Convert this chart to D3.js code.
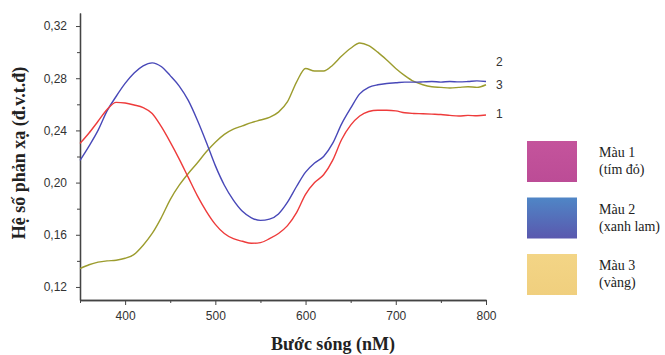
<!DOCTYPE html>
<html>
<head>
<meta charset="utf-8">
<script src="https://cdn.jsdelivr.net/npm/d3@7"></script>
<style>
  body { margin: 0; background: #fff; }
  .tick text { font-family: Arial, "Liberation Sans", sans-serif; font-size: 12px; fill: #333; }
  .axis path, .axis line { stroke: #444; }
  .axis-label { font-family: "Liberation Serif", "Times New Roman", serif; font-weight: bold; font-size: 18px; fill: #222; }
  .legend-text { font-family: "Liberation Serif", "Times New Roman", serif; font-size: 14px; fill: #222; }
  .curve-label { font-family: Arial, "Liberation Sans", sans-serif; font-size: 12px; fill: #333; }
</style>
</head>
<body>
<svg width="665" height="355"></svg>
<script>
const svg = d3.select('svg');

const margin = { top: 13, left: 80 };
const innerWidth = 406;
const innerHeight = 287;

const xAxisLabel = 'Bước sóng (nM)';
const yAxisLabel = 'Hệ số phản xạ (đ.v.t.đ)';

// wavelengths (nm)
const wavelengths = [350, 360, 370, 380, 390, 400, 410, 420, 430, 440,
  450, 460, 470, 480, 490, 500, 510, 520, 530, 540,
  550, 560, 570, 580, 590, 600, 610, 620, 630, 640,
  650, 660, 670, 680, 690, 700, 710, 720, 730, 740,
  750, 760, 770, 780, 790, 800];

// curve 1 (red)
const series1 = [0.230, 0.238, 0.247, 0.256, 0.2615, 0.261, 0.2595, 0.2575, 0.253, 0.243,
  0.231, 0.218, 0.204, 0.190, 0.178, 0.168, 0.161, 0.157, 0.155, 0.1535,
  0.154, 0.157, 0.161, 0.167, 0.177, 0.191, 0.200, 0.206, 0.217, 0.233,
  0.244, 0.251, 0.2545, 0.2555, 0.2555, 0.255, 0.2535, 0.253, 0.2528, 0.2525,
  0.2522, 0.2515, 0.251, 0.2515, 0.2512, 0.2518];

// curve 2 (blue)
const series2 = [0.217, 0.228, 0.240, 0.255, 0.266, 0.276, 0.284, 0.2895, 0.2918, 0.289,
  0.282, 0.274, 0.263, 0.248, 0.231, 0.213, 0.198, 0.1866, 0.178, 0.173,
  0.171, 0.172, 0.176, 0.185, 0.197, 0.208, 0.215, 0.220, 0.230, 0.245,
  0.257, 0.268, 0.273, 0.275, 0.276, 0.2765, 0.277, 0.277, 0.2772, 0.2775,
  0.277, 0.2775, 0.2772, 0.2775, 0.278, 0.2775];

// curve 3 (olive)
const series3 = [0.134, 0.137, 0.139, 0.140, 0.1405, 0.142, 0.145, 0.152, 0.161, 0.173,
  0.187, 0.198, 0.207, 0.215, 0.2236, 0.231, 0.237, 0.241, 0.2435, 0.246,
  0.248, 0.250, 0.254, 0.262, 0.277, 0.2875, 0.2855, 0.2855, 0.290, 0.297,
  0.303, 0.307, 0.305, 0.300, 0.294, 0.2875, 0.282, 0.2775, 0.275, 0.2735,
  0.273, 0.2725, 0.273, 0.2735, 0.273, 0.275];

const seriesNames = ['1', '2', '3'];
const seriesColors = ['#ee3b3b', '#4848b8', '#9c9c2e'];

// legend of sample colours
const swatchLabels = [['Màu 1', '(tím đỏ)'], ['Màu 2', '(xanh lam)'], ['Màu 3', '(vàng)']];
const swatchTop = ['#c4549c', '#4f86c6', '#f3d586'];
const swatchBottom = ['#bc4c96', '#5a58ae', '#f0cf7e'];

const xTicks = [400, 500, 600, 700, 800];
const yTicks = [0.12, 0.16, 0.20, 0.24, 0.28, 0.32];
const xMinor = [350, 450, 550, 650, 750];
const yMinor = [0.14, 0.18, 0.22, 0.26, 0.30];

const x = d3.scaleLinear().domain([350, 800]).range([0, innerWidth]);
const y = d3.scaleLinear().domain([0.11, 0.33]).range([innerHeight, 0]);

const g = svg.append('g')
  .attr('transform', `translate(${margin.left},${margin.top})`);

// axes
const fmt = d => d3.format('.2f')(d).replace('.', ',');

g.append('g')
  .attr('class', 'axis')
  .attr('transform', `translate(0,${innerHeight})`)
  .call(d3.axisBottom(x).tickValues(xTicks).tickSize(5).tickPadding(6).tickSizeOuter(0));
g.append('g')
  .attr('class', 'axis')
  .attr('transform', `translate(0,${innerHeight})`)
  .call(d3.axisBottom(x).tickValues(xMinor).tickSize(3).tickFormat('').tickSizeOuter(0));

g.append('g')
  .attr('class', 'axis')
  .call(d3.axisLeft(y).tickValues(yTicks).tickFormat(fmt).tickSize(4).tickPadding(9).tickSizeOuter(0));
g.append('g')
  .attr('class', 'axis')
  .call(d3.axisLeft(y).tickValues(yMinor).tickSize(3).tickFormat('').tickSizeOuter(0));

g.selectAll('.axis path').attr('stroke-width', 1.3);

// curves
const allSeries = [series1, series2, series3];
const line = d3.line()
  .x((d, i) => x(wavelengths[i]))
  .y(d => y(d))
  .curve(d3.curveMonotoneX);

// draw order: olive behind, then blue, red
[2, 1, 0].forEach(k => {
  g.append('path')
    .attr('d', line(allSeries[k]))
    .attr('fill', 'none')
    .attr('stroke', seriesColors[k])
    .attr('stroke-width', 1.4);
});

// curve labels at right end
const labelY = { '2': 0.2925, '3': 0.2745, '1': 0.2525 };
seriesNames.forEach(n => {
  g.append('text')
    .attr('class', 'curve-label')
    .attr('x', innerWidth + 10)
    .attr('y', y(labelY[n]) + 4)
    .text(n);
});

// axis labels
svg.append('text')
  .attr('class', 'axis-label')
  .attr('transform', 'rotate(-90)')
  .attr('x', -153)
  .attr('y', 25)
  .attr('text-anchor', 'middle')
  .text(yAxisLabel);

svg.append('text')
  .attr('class', 'axis-label')
  .attr('x', 333)
  .attr('y', 350)
  .attr('text-anchor', 'middle')
  .text(xAxisLabel);

// colour swatches
const defs = svg.append('defs');
swatchLabels.forEach((lab, i) => {
  const grad = defs.append('linearGradient')
    .attr('id', 'sw' + i)
    .attr('x1', 0).attr('y1', 0).attr('x2', 0).attr('y2', 1);
  grad.append('stop').attr('offset', '0%').attr('stop-color', swatchTop[i]);
  grad.append('stop').attr('offset', '100%').attr('stop-color', swatchBottom[i]);

  const top = 141 + i * 56.5;
  svg.append('rect')
    .attr('x', 527)
    .attr('y', top)
    .attr('width', 50)
    .attr('height', 41)
    .attr('fill', `url(#sw${i})`);

  svg.append('text')
    .attr('class', 'legend-text')
    .attr('x', 599)
    .attr('y', top + 16)
    .text(lab[0]);
  svg.append('text')
    .attr('class', 'legend-text')
    .attr('x', 599)
    .attr('y', top + 33)
    .text(lab[1]);
});
</script>
</body>
</html>
